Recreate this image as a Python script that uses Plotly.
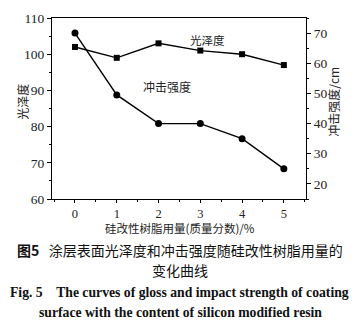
import plotly.graph_objects as go

# Silicon-modified resin content (mass fraction, %)
resin_content = [0, 1, 2, 3, 4, 5]
# Gloss of the coating surface (left axis)
gloss = [102, 99, 103, 101, 100, 97]
# Impact strength, cm (right axis)
impact = [70, 49.5, 40, 40, 35, 25]

W, H = 359, 330
ML, MR, MT, MB = 52, 53, 11, 131
PW = W - ML - MR
PH = H - MT - MB

CN = "Noto Sans CJK SC"
SERIF = "Liberation Serif"


def px(xpix):
    """Convert a pixel column in the page to paper x coordinates."""
    return (xpix - ML) / PW


def py(ypix):
    """Convert a pixel row in the page to paper y coordinates."""
    return (H - MB - ypix) / PH


fig = go.Figure()
fig.add_trace(go.Scatter(
    x=resin_content, y=gloss, mode="lines+markers",
    line=dict(color="black", width=1.4),
    marker=dict(symbol="square", size=6, color="black"),
    showlegend=False,
))
fig.add_trace(go.Scatter(
    x=resin_content, y=impact, mode="lines+markers", yaxis="y2",
    line=dict(color="black", width=1.4),
    marker=dict(symbol="circle", size=7, color="black"),
    showlegend=False,
))

axis_common = dict(
    showgrid=False, zeroline=False, showline=True, linecolor="black",
    linewidth=1.2, ticks="outside", tickwidth=1.2, tickcolor="black",
    ticklabelstandoff=0,
)

fig.update_layout(
    width=W, height=H,
    margin=dict(l=ML, r=MR, t=MT, b=MB),
    paper_bgcolor="white", plot_bgcolor="white",
    xaxis=dict(
        range=[-0.55, 5.53], tickvals=resin_content, mirror=True, ticklen=3,
        tickfont=dict(family=SERIF, size=12.5, color="#222"),
        minor=dict(dtick=0.5, tick0=0, ticks="outside", ticklen=2,
                   tickcolor="black"),
        **axis_common,
    ),
    yaxis=dict(
        range=[60, 110], dtick=10, ticklen=4,
        tickfont=dict(family=SERIF, size=13.5, color="#222"),
        minor=dict(dtick=5, ticks="outside", ticklen=2, tickcolor="black"),
        **axis_common,
    ),
    yaxis2=dict(
        range=[15, 75], dtick=10, tick0=20, overlaying="y", side="right",
        ticklen=4, tickfont=dict(family=SERIF, size=13.5, color="#222"),
        minor=dict(dtick=5, tick0=15, ticks="outside", ticklen=2,
                   tickcolor="black"),
        **axis_common,
    ),
)


def page_text(xpix, ypix, text, family, size, angle=0, color="#222"):
    """Text placed by its centre at a pixel position on the page."""
    return dict(x=px(xpix), y=py(ypix), xref="paper", yref="paper",
                xanchor="center", yanchor="middle", text=text,
                textangle=angle, showarrow=False,
                font=dict(family=family, size=size, color=color))


annotations = [
    # series labels inside the plot
    dict(x=3.18, y=104.0, xref="x", yref="y", text="光泽度", showarrow=False,
         xanchor="center", yanchor="middle",
         font=dict(family=CN, size=11.5, color="#222")),
    dict(x=2.2, y=91.2, xref="x", yref="y", text="冲击强度", showarrow=False,
         xanchor="center", yanchor="middle",
         font=dict(family=CN, size=12, color="#222")),
    # axis titles
    page_text(23, 98, "光泽度", CN, 12, angle=-90),
    page_text(334, 98, "冲击强度/cm", CN, 12, angle=-90),
    page_text(180, 229, "硅改性树脂用量(质量分数)/%", CN, 11.5),
    # figure caption
    page_text(180, 252, "<b>图5</b>   涂层表面光泽度和冲击强度随硅改性树脂用量的",
              CN, 14, color="#111"),
    page_text(180, 273, "变化曲线", CN, 14, color="#111"),
    page_text(179, 296,
              "<b>Fig. 5    The curves of gloss and impact strength of coating</b>",
              SERIF, 13.7, color="#111"),
    page_text(180, 317,
              "<b>surface with the content of silicon modified resin</b>",
              SERIF, 13.7, color="#111"),
]
fig.update_layout(annotations=annotations)

fig.write_html("out.html")
